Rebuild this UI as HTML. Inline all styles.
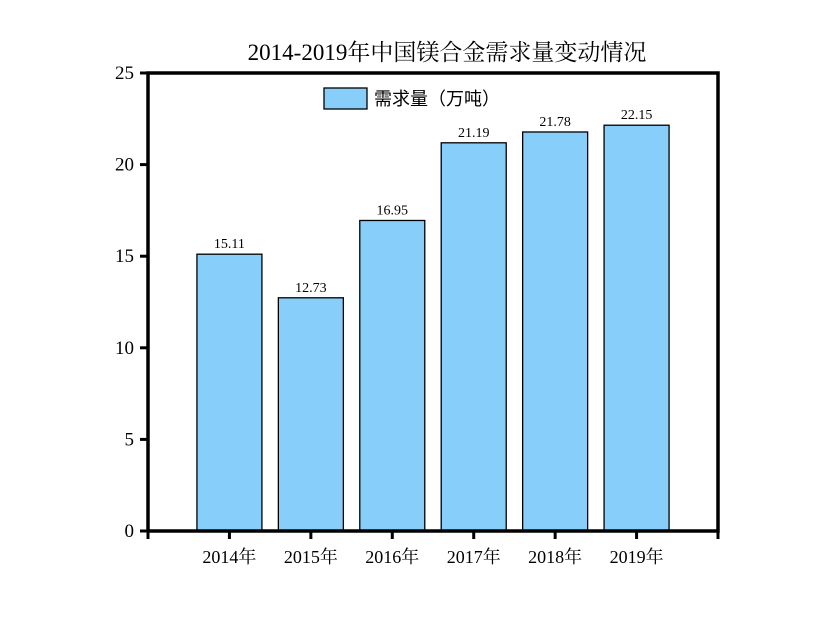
<!DOCTYPE html>
<html><head><meta charset="utf-8"><style>
body{margin:0;background:#fff;}
svg text{font-family:"Liberation Serif","Noto Serif CJK SC",serif;fill:#000;}
</style></head><body>
<svg width="831" height="636">
<text x="447" y="60" font-size="23" text-anchor="middle">2014-2019年中国镁合金需求量变动情况</text>
<g id="bars"></g>
<g id="axes"></g>
<g>
<rect x="324" y="88" width="43" height="21" fill="#87cefa" stroke="#000" stroke-width="1.3"/>
<text x="374" y="105" font-size="18" style="font-family:'Noto Sans CJK SC',sans-serif">需求量（万吨）</text>
</g>
</svg>
<script>
const categories=["2014年","2015年","2016年","2017年","2018年","2019年"];
const values=[15.11,12.73,16.95,21.19,21.78,22.15];
const yTicks=[0,5,10,15,20,25];
const NS="http://www.w3.org/2000/svg";
const L=148,R=718,T=73,B=531,yMax=25;
const step=(R-L)/(categories.length+1);
const x=i=>L+step*(i+1);
const y=v=>B-(v/yMax)*(B-T);
function mk(tag,at,parent){const e=document.createElementNS(NS,tag);for(const k in at)e.setAttribute(k,at[k]);parent.appendChild(e);return e;}
const bars=document.getElementById('bars'),axes=document.getElementById('axes');
const bw=65;
categories.forEach((c,i)=>{
  const r=mk('rect',{x:x(i)-bw/2,y:y(values[i]),width:bw,height:B-y(values[i]),fill:'#87cefa',stroke:'#000','stroke-width':1.3},bars);
  
  
  const t=mk('text',{x:x(i),y:y(values[i])-6,'font-size':14,'text-anchor':'middle'},bars);
  t.textContent=values[i].toFixed(2);
  
  
  const tk=mk('line',{x1:x(i),x2:x(i),y1:B,y2:B+8,stroke:'#000','stroke-width':3},axes);
  
  
  const lb=mk('text',{x:x(i),y:B+32,'font-size':18,'text-anchor':'middle'},axes);
  lb.textContent=c;
  
  
});
const fr=mk('path',{d:`M${L},${B} L${L},${T} L${R},${T} L${R},${B} Z`,fill:'none',stroke:'#000','stroke-width':3.5},axes);


[L,R].forEach(xx=>{const e=mk('line',{x1:xx,x2:xx,y1:B,y2:B+8,stroke:'#000','stroke-width':3},axes);

});
yTicks.forEach(v=>{
  const e=mk('line',{x1:L-8,x2:L,y1:y(v),y2:y(v),stroke:'#000','stroke-width':3},axes);
  
  
  const t=mk('text',{x:L-14,y:y(v)+6,'font-size':19,'text-anchor':'end'},axes);
  t.textContent=v;
  
  
});
</script>
</body></html>
